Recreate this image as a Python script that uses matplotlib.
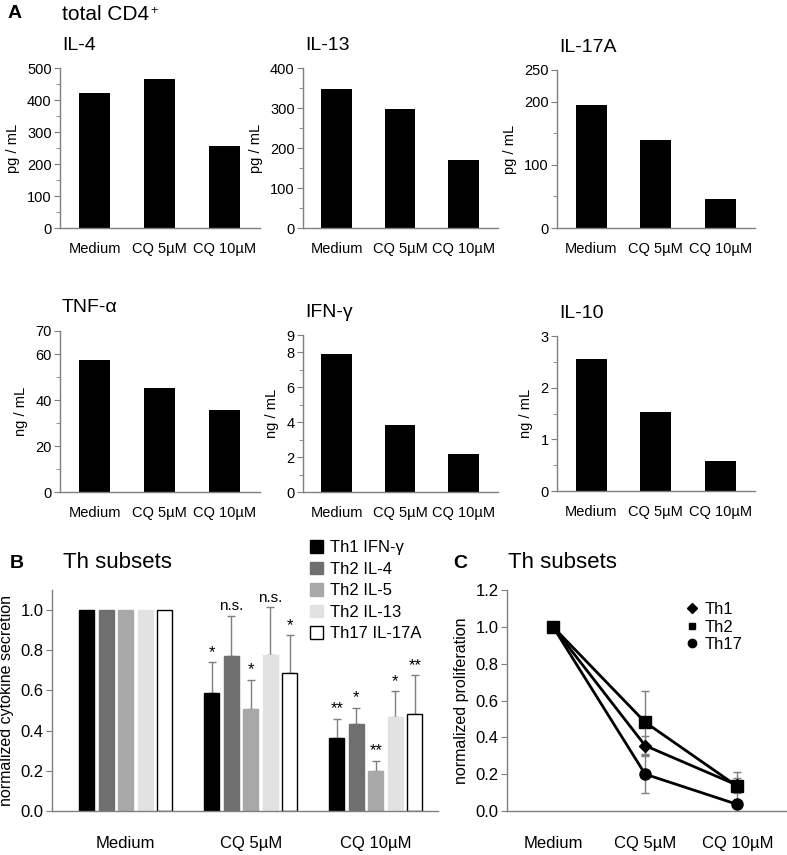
import matplotlib
matplotlib.use("Agg")
import matplotlib.pyplot as plt
import numpy as np
from matplotlib.ticker import FixedLocator
from matplotlib.lines import Line2D

plt.rcParams['font.family'] = ['Liberation Sans', 'DejaVu Sans']

# ---------------- data ----------------
conditions = ["Medium", "CQ 5µM", "CQ 10µM"]

il4 = [421, 466, 256]
il13 = [347, 297, 171]
il17a = [194, 139, 46]
tnfa = [57.5, 45.2, 35.8]
ifng = [7.9, 3.86, 2.16]
il10 = [2.55, 1.53, 0.58]

subset_labels = ["Th1 IFN-γ", "Th2 IL-4", "Th2 IL-5", "Th2 IL-13", "Th17 IL-17A"]
subset_means = [
    [1.0, 0.588, 0.364],
    [1.0, 0.771, 0.434],
    [1.0, 0.510, 0.201],
    [1.0, 0.774, 0.468],
    [1.0, 0.686, 0.482],
]
subset_err = [
    [0.0, 0.153, 0.096],
    [0.0, 0.202, 0.079],
    [0.0, 0.144, 0.050],
    [0.0, 0.239, 0.128],
    [0.0, 0.188, 0.194],
]
subset_sig = [
    ["", "*", "**"],
    ["", "n.s.", "*"],
    ["", "*", "**"],
    ["", "n.s.", "*"],
    ["", "*", "**"],
]

prolif_labels = ["Th1", "Th2", "Th17"]
prolif_means = [
    [1.0, 0.355, 0.14],
    [1.0, 0.482, 0.134],
    [1.0, 0.20, 0.036],
]
prolif_err = [
    [0.01, 0.05, 0.04],
    [0.01, 0.17, 0.08],
    [0.01, 0.10, 0.02],
]

# ---------------- layout helpers ----------------
W, H = 787, 855
fig = plt.figure(figsize=(W / 100, H / 100), dpi=100)
SP = '#7f7f7f'


def ax_px(l, t, r, b):
    return fig.add_axes([l / W, 1 - b / H, (r - l) / W, (b - t) / H])


def ftext(x, y, s, **kw):
    return fig.text(x / W, 1 - y / H, s, **kw)


def style(ax):
    for s in ['top', 'right']:
        ax.spines[s].set_visible(False)
    for s in ['left', 'bottom']:
        ax.spines[s].set_color(SP)
        ax.spines[s].set_linewidth(1.0)
    ax.tick_params(axis='y', which='both', color=SP, direction='out')
    ax.tick_params(axis='y', which='major', length=4, labelsize=10.5, pad=2)
    ax.tick_params(axis='y', which='minor', length=3)
    ax.tick_params(axis='x', length=0, pad=10)


# ---------------- panel A ----------------
ftext(8, 14, "A", fontsize=14, fontweight='bold', va='center')
t_cd4 = ftext(62, 14, "total CD4", fontsize=15, va='center')
fig.canvas.draw()
bb = t_cd4.get_window_extent(renderer=fig.canvas.get_renderer())
fig.text((bb.x1 + 1) / W, (bb.y1 - 1) / H, "+", fontsize=9, va='top', ha='left')

panels = [
    (il4, "IL-4", "pg / mL", (60, 68, 260, 228), [0, 100, 200, 300, 400, 500], [50, 150, 250, 350, 450], 500),
    (il13, "IL-13", "pg / mL", (303, 68, 498, 228), [0, 100, 200, 300, 400], [50, 150, 250, 350], 400),
    (il17a, "IL-17A", "pg / mL", (557, 70, 755, 228), [0, 100, 200, 250], [50, 150], 250),
    (tnfa, "TNF-α", "ng / mL", (60, 331, 260, 492), [0, 20, 40, 60, 70], [10, 30, 50], 70),
    (ifng, "IFN-γ", "ng / mL", (303, 335, 498, 492), [0, 2, 4, 6, 8, 9], [1, 3, 5, 7], 9),
    (il10, "IL-10", "ng / mL", (557, 336, 755, 491), [0, 1, 2, 3], [0.5, 1.5, 2.5], 3),
]

for vals, title, ylab, box, maj, minr, top in panels:
    ax = ax_px(*box)
    x = np.arange(len(conditions))
    ax.bar(x, vals, width=0.48, color='black')
    ax.set_xlim(-0.53, 2.54)
    ax.set_ylim(0, top)
    ax.yaxis.set_major_locator(FixedLocator(maj))
    ax.yaxis.set_minor_locator(FixedLocator(minr))
    ax.set_xticks(x)
    ax.set_xticklabels(conditions, fontsize=10.5)
    ax.set_ylabel(ylab, fontsize=10.5, labelpad=5)
    style(ax)
    l, t = box[0], box[1]
    ftext(l + 2, t - 23, title, fontsize=14, va='center')

# ---------------- panel B ----------------
ftext(10, 563, "B", fontsize=14, fontweight='bold', va='center')
ftext(63, 563, "Th subsets", fontsize=16, va='center')

axb = ax_px(52, 590, 438, 811)
colors = ['#000000', '#6f6f6f', '#a8a8a8', '#e2e2e2', '#ffffff']
edges = ['#000000', '#6f6f6f', '#a8a8a8', '#e2e2e2', '#000000']
bw = 0.12
pitch = 0.156
xg = np.arange(len(conditions))
for i in range(len(subset_labels)):
    xs = xg + (i - 2) * pitch
    axb.bar(xs, subset_means[i], width=bw, color=colors[i], edgecolor=edges[i], linewidth=1.0, zorder=2)
    for j in range(len(conditions)):
        e = subset_err[i][j]
        if e > 0:
            axb.errorbar(xs[j], subset_means[i][j], yerr=[[0], [e]], fmt='none',
                         ecolor='#7f7f7f', elinewidth=1.0, capsize=3, zorder=1)
        s = subset_sig[i][j]
        if s:
            axb.text(xs[j], subset_means[i][j] + e + 0.012, s, ha='center', va='bottom',
                     fontsize=12 if '*' in s else 11)
axb.set_xlim(-0.588, 2.496)
axb.set_ylim(0, 1.1)
axb.set_yticks(np.arange(0, 1.01, 0.2))
axb.set_yticklabels([f"{v:.1f}" for v in np.arange(0, 1.01, 0.2)])
axb.set_xticks(xg)
axb.set_xticklabels(conditions, fontsize=12)
axb.set_ylabel("normalized cytokine secretion", fontsize=11.5, labelpad=5)
style(axb)
axb.tick_params(axis='y', labelsize=12)
axb.tick_params(axis='x', pad=18)

handles = [matplotlib.patches.Patch(facecolor=colors[i], edgecolor=edges[i]) for i in range(5)]
fig.legend(handles, subset_labels, loc='upper left', bbox_to_anchor=(310 / W, 1 - 540 / H),
           frameon=False, fontsize=12, handlelength=0.8, handleheight=0.8,
           handletextpad=0.4, labelspacing=0.38, borderaxespad=0, borderpad=0)

# ---------------- panel C ----------------
ftext(453, 563, "C", fontsize=14, fontweight='bold', va='center')
ftext(508, 563, "Th subsets", fontsize=16, va='center')

axc = ax_px(507, 590, 787, 811)
markers = ['D', 's', 'o']
msizes = [6, 8, 8]
for i in range(len(prolif_labels)):
    axc.errorbar(xg, prolif_means[i], yerr=prolif_err[i], fmt='none', ecolor='#7f7f7f',
                 elinewidth=1.0, capsize=3, zorder=1)
    axc.plot(xg, prolif_means[i], color='black', lw=2, marker=markers[i], ms=msizes[i], zorder=3)
axc.set_xlim(-0.5, 2.54)
axc.set_ylim(0, 1.2)
axc.set_yticks(np.arange(0, 1.21, 0.2))
axc.set_yticklabels([f"{v:.1f}" for v in np.arange(0, 1.21, 0.2)])
axc.set_xticks(xg)
axc.set_xticklabels(conditions, fontsize=12)
axc.set_ylabel("normalized proliferation", fontsize=11.5, labelpad=5)
style(axc)
axc.tick_params(axis='y', labelsize=12)
axc.tick_params(axis='x', pad=18)

lh = [Line2D([], [], ls='none', marker=markers[i], color='black', ms=[5, 5, 6][i]) for i in range(3)]
fig.legend(lh, prolif_labels, loc='upper left', bbox_to_anchor=(685 / W, 1 - 602 / H),
           frameon=False, fontsize=12, handlelength=0.8, handletextpad=0.4,
           labelspacing=0.15, borderaxespad=0, borderpad=0)

fig.savefig("out.png", dpi=100)
